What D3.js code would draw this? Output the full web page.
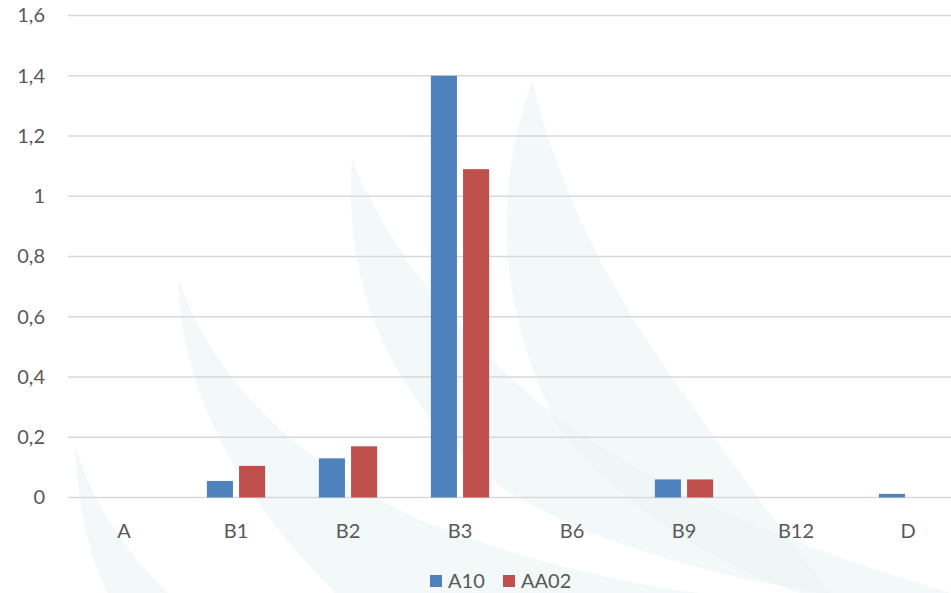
<!DOCTYPE html>
<html>
<head>
<meta charset="utf-8">
<script src="https://cdn.jsdelivr.net/npm/d3@7/dist/d3.min.js"></script>
<style>
  html, body { margin: 0; padding: 0; background: #ffffff; }
  svg { display: block; }
  text { font-family: Lato, "Open Sans", "Liberation Sans", sans-serif; fill: #595959; }
</style>
</head>
<body>
<svg id="chart" width="951" height="593"></svg>
<script>
// Categories and measured values per series
const categories = ["A", "B1", "B2", "B3", "B6", "B9", "B12", "D"];
const seriesNames = ["A10", "AA02"];
const valuesA10  = [0, 0.055, 0.13, 1.40, 0, 0.06, 0, 0.012];
const valuesAA02 = [0, 0.105, 0.17, 1.09, 0, 0.06, 0, 0];
const yTicks = [0, 0.2, 0.4, 0.6, 0.8, 1.0, 1.2, 1.4, 1.6];
const seriesColors = ["#4F81BD", "#C0504D"];

const svg = d3.select("#chart");
const FONT = 20;

// Faint background swoosh decoration
const deco = svg.append("g").attr("class", "swoosh");
const swooshes = [
  "M75,445 Q80,540 108,593 L168,593 Q98,525 75,445 Z",
  "M178,278 Q182,440 335,593 L700,593 Q560,575 420,520 Q230,430 178,278 Z",
  "M352,160 Q338,360 505,490 Q620,560 820,593 L951,593 Q700,520 560,420 Q410,300 352,160 Z",
  "M532,80 Q470,260 560,430 Q650,540 800,593 L830,593 Q720,450 640,330 Q560,200 532,80 Z"
];
deco.selectAll("path").data(swooshes).join("path")
  .attr("d", d => d)
  .attr("fill", "#eef5f5")
  .attr("opacity", 0.7);

// Scales
const plotLeft = 68, plotRight = 964, plotTop = 15.5, plotBottom = 497.5;
const x0 = d3.scaleBand().domain(categories).range([plotLeft, plotRight]).padding(0);
const groupW = x0.bandwidth() * 0.52;
const groupOff = (x0.bandwidth() - groupW) / 2;
const x1 = d3.scaleBand().domain(seriesNames).range([groupOff, groupOff + groupW]).paddingInner(0.19);
const y = d3.scaleLinear().domain([0, 1.6]).range([plotBottom, plotTop]);

const fmt = d3.formatLocale({ decimal: ",", thousands: ".", grouping: [3], currency: ["", ""] }).format("~g");

// Horizontal gridlines
svg.append("g").selectAll("line").data(yTicks).join("line")
  .attr("x1", plotLeft).attr("x2", plotRight)
  .attr("y1", d => y(d)).attr("y2", d => y(d))
  .attr("stroke", "#d9d9d9").attr("stroke-width", 1.5);

// Y-axis labels
const yAxis = d3.axisLeft(y).tickValues(yTicks).tickFormat(fmt).tickSize(0).tickPadding(0);
const yg = svg.append("g").attr("transform", "translate(45,0)").call(yAxis);
yg.select(".domain").remove();
yg.selectAll("text").attr("font-size", FONT).attr("fill", "#595959")
  .style("font-family", "Lato, 'Open Sans', sans-serif");

// X-axis labels
const xAxis = d3.axisBottom(x0).tickSize(0).tickPadding(0);
const xg = svg.append("g").attr("transform", `translate(0,${plotBottom})`).call(xAxis);
xg.select(".domain").remove();
xg.selectAll("text").attr("font-size", FONT).attr("fill", "#595959").attr("dy", null).attr("y", 40)
  .style("font-family", "Lato, 'Open Sans', sans-serif");

// Bars
const rows = categories.map((c, i) => ({ cat: c, vals: [valuesA10[i], valuesAA02[i]] }));
const groups = svg.append("g").selectAll("g").data(rows).join("g")
  .attr("transform", d => `translate(${x0(d.cat)},0)`);
groups.selectAll("rect")
  .data(d => d.vals.map((v, k) => ({ key: seriesNames[k], v, k })).filter(e => e.v > 0))
  .join("rect")
  .attr("x", e => x1(e.key))
  .attr("width", x1.bandwidth())
  .attr("y", e => y(e.v))
  .attr("height", e => y(0) - y(e.v))
  .attr("fill", e => seriesColors[e.k]);

// Legend
const legend = svg.append("g").attr("transform", "translate(430,575)");
const legendX = [0, 73];
seriesNames.forEach((name, k) => {
  const g = legend.append("g").attr("transform", `translate(${legendX[k]},0)`);
  g.append("rect").attr("width", 12).attr("height", 12).attr("fill", seriesColors[k]);
  g.append("text").attr("x", 18).attr("y", 12.5).attr("font-size", FONT).text(name);
});
</script>
</body>
</html>
